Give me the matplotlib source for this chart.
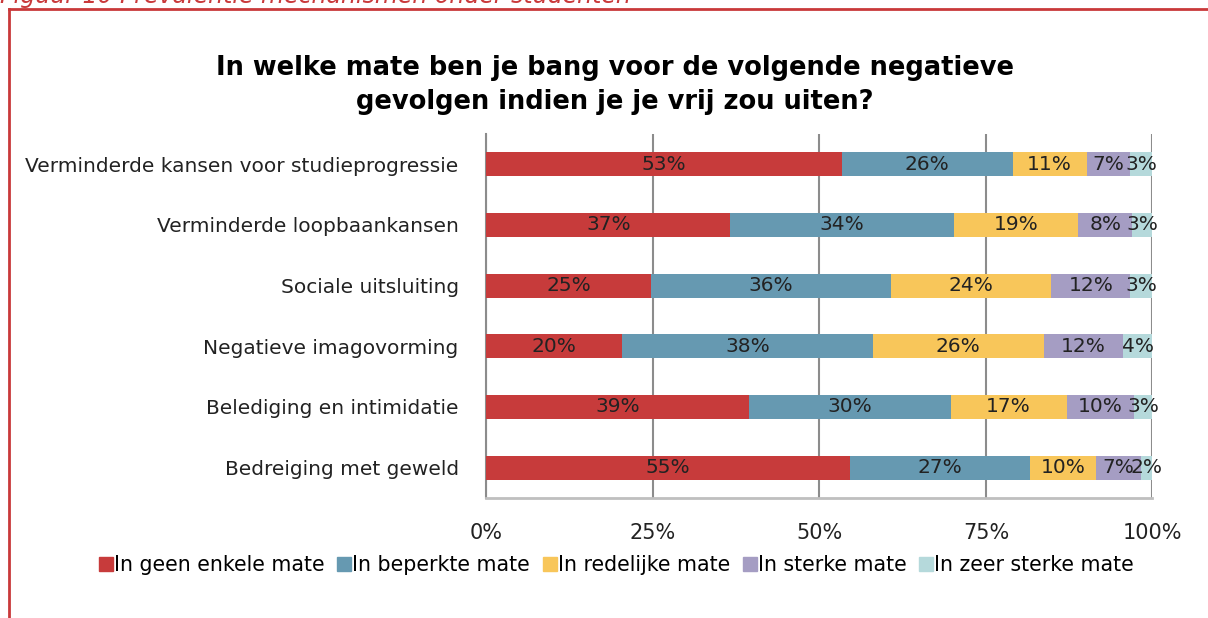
import matplotlib
matplotlib.use('Agg')
import matplotlib.pyplot as plt
import numpy as np
from matplotlib.lines import Line2D

plt.rcParams['font.family'] = ['DejaVu Sans']

# Data (percentages per row)
categories = [
    'Verminderde kansen voor studieprogressie',
    'Verminderde loopbaankansen',
    'Sociale uitsluiting',
    'Negatieve imagovorming',
    'Belediging en intimidatie',
    'Bedreiging met geweld',
]
series_names = ['In geen enkele mate', 'In beperkte mate', 'In redelijke mate',
                'In sterke mate', 'In zeer sterke mate']
geen = [53.4, 36.6, 24.7, 20.4, 39.4, 54.6]
beperkt = [25.6, 33.6, 36.1, 37.6, 30.3, 27.0]
redelijk = [11.1, 18.6, 24.0, 25.7, 17.4, 10.0]
sterk = [6.6, 8.2, 11.9, 11.9, 10.1, 6.7]
zeer_sterk = [3.3, 3.0, 3.3, 4.4, 2.8, 1.7]
colors = ['#C73B3B', '#6699B1', '#F8C65A', '#A59DC3', '#B5D9DB']

series = [geen, beperkt, redelijk, sterk, zeer_sterk]

fig = plt.figure(figsize=(12.08, 6.18), dpi=100)
ax = fig.add_axes([0.4027, 0.1942, 0.5513, 0.589])

y = np.arange(len(categories))
left = np.zeros(len(categories))
for vals, col, name in zip(series, colors, series_names):
    vals = np.array(vals)
    ax.barh(y, vals, left=left, height=0.4, color=col, label=name, zorder=3)
    for yi, l, v in zip(y, left, vals):
        ax.text(l + v / 2, yi, f"{v:.0f}%", ha='center', va='center',
                fontsize=14.5, color='#222222', zorder=4)
    left += vals

ax.set_xlim(0, 100)
ax.set_ylim(len(categories) - 0.5, -0.5)
ax.set_xticks([0, 25, 50, 75, 100])
ax.set_xticklabels(['0%', '25%', '50%', '75%', '100%'])
ax.set_yticks(y)
ax.set_yticklabels(categories)
ax.tick_params(axis='x', length=0, pad=18, labelsize=15, colors='#222222')
ax.tick_params(axis='y', length=0, pad=20, labelsize=14.5, colors='#222222')
ax.grid(axis='x', color='#8c8c8c', linewidth=1.5, zorder=0)
for s in ['top', 'right']:
    ax.spines[s].set_visible(False)
ax.spines['left'].set_color('#8c8c8c')
ax.spines['left'].set_linewidth(1.5)
ax.spines['bottom'].set_color('#bfbfbf')
ax.spines['bottom'].set_linewidth(2)

# Title
fig.text(0.509, 0.862, 'In welke mate ben je bang voor de volgende negatieve\ngevolgen indien je je vrij zou uiten?',
         ha='center', va='center', fontsize=18.5, fontweight='bold', linespacing=1.4)

# Legend
handles = [Line2D([], [], marker='s', linestyle='none', markersize=10,
                  markerfacecolor=c, markeredgecolor=c) for c in colors]
fig.legend(handles, series_names, loc='center', bbox_to_anchor=(0.511, 0.0858),
           ncol=5, frameon=False, fontsize=14.8, handlelength=0.5,
           handletextpad=0.15, columnspacing=0.7)

# Red frame and cut-off caption
fig.add_artist(Line2D([0.0075, 0.0075], [0, 1 - 9 / 618], color='#C9393A', linewidth=2,
                      transform=fig.transFigure))
fig.add_artist(Line2D([0.0075, 1], [1 - 9 / 618, 1 - 9 / 618], color='#C9393A', linewidth=2,
                      transform=fig.transFigure))
fig.text(0.0, 1 - 2.5 / 618, 'Figuur 10 Prevalentie mechanismen onder studenten',
         ha='left', va='baseline', fontsize=17, style='italic', color='#C9393A')

fig.savefig('out.png', dpi=100)
